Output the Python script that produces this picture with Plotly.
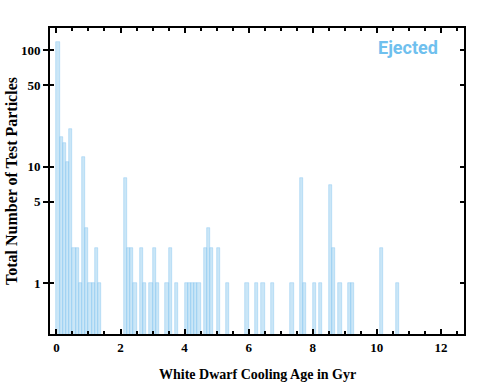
import plotly.graph_objects as go

# histogram of ejected particles, 0.1 Gyr bins (left edges) and counts
bin_left = [0.0, 0.1, 0.2, 0.3, 0.4, 0.5, 0.6, 0.7, 0.8, 0.9, 1.0, 1.1, 1.2, 1.3,
            2.1, 2.2, 2.3, 2.4, 2.6, 2.7, 2.9, 3.0, 3.1, 3.4, 3.5, 3.7,
            4.0, 4.1, 4.2, 4.3, 4.4, 4.6, 4.7, 4.8, 5.0, 5.3, 5.9, 6.2, 6.4, 6.7,
            7.3, 7.6, 7.7, 8.0, 8.2, 8.5, 8.6, 8.8, 9.1, 9.2, 10.1, 10.6]
counts = [118, 18, 16, 11, 21, 2, 2, 1, 12, 3, 1, 1, 2, 1,
          8, 2, 2, 1, 2, 1, 1, 2, 1, 1, 2, 1,
          1, 1, 1, 1, 1, 2, 3, 2, 2, 1, 1, 1, 1, 1,
          1, 8, 1, 1, 1, 7, 2, 1, 1, 1, 2, 1]
bin_width = 0.1

x_ticks = [0, 2, 4, 6, 8, 10, 12]
y_ticks = [1, 5, 10, 50, 100]

serif = "Liberation Serif, DejaVu Serif, serif"

fig = go.Figure()
fig.add_trace(go.Bar(
    x=bin_left, y=counts, width=bin_width, offset=0,
    marker=dict(color="rgba(150,205,240,0.5)",
                line=dict(color="rgba(130,195,240,0.7)", width=0.6)),
    showlegend=False,
))
# dummy trace so the inner-tick y axis is drawn
fig.add_trace(go.Scatter(x=[None], y=[None], yaxis="y2", showlegend=False))

fig.add_annotation(x=0.865, y=0.935, xref="paper", yref="paper",
                   xanchor="center", yanchor="middle",
                   text="<b>Ejected</b>", showarrow=False,
                   font=dict(family="Liberation Sans Narrow, Roboto, sans-serif",
                             size=18, color="#6fc0ee"))
# axis titles
fig.add_annotation(x=0.5, y=0, xref="paper", yref="paper", yshift=-40,
                   yanchor="middle", showarrow=False,
                   text="<b>White Dwarf Cooling Age in Gyr</b>",
                   font=dict(size=14, family=serif))
fig.add_annotation(x=0, y=0.5, xref="paper", yref="paper", xshift=-39,
                   xanchor="center", textangle=-90, showarrow=False,
                   text="<b>Total Number of Test Particles</b>",
                   font=dict(size=16, family=serif))

fig.update_layout(
    width=491, height=382,
    margin=dict(l=50, r=27, t=28, b=48),
    paper_bgcolor="white", plot_bgcolor="white",
    bargap=0,
    font=dict(family=serif, color="black"),
    xaxis=dict(
        range=[-0.2, 12.72], tickvals=x_ticks,
        ticktext=[f"<b>{v}</b>" for v in x_ticks],
        ticks="inside", ticklen=5, tickwidth=2, tickcolor="black",
        minor=dict(dtick=0.5, ticks="inside", ticklen=3, tickwidth=2, tickcolor="black"),
        showline=True, linecolor="black", linewidth=2, mirror="ticks",
        showgrid=False, zeroline=False, automargin=False,
        tickfont=dict(size=13, family=serif),
    ),
    yaxis=dict(
        type="log", range=[-0.434, 2.189], tickvals=y_ticks,
        ticktext=[f"<b>{v}</b>" for v in y_ticks],
        ticks="outside", ticklen=5, tickwidth=2, tickcolor="black",
        showline=True, linecolor="black", linewidth=2, mirror=True,
        showgrid=False, zeroline=False, automargin=False,
        tickfont=dict(size=13, family=serif),
    ),
    yaxis2=dict(
        type="log", range=[-0.434, 2.189], overlaying="y", side="left",
        tickvals=y_ticks, showticklabels=False,
        ticks="inside", ticklen=4, tickwidth=2, tickcolor="black",
        showline=False, showgrid=False, zeroline=False, mirror="ticks",
        automargin=False,
    ),
)

# drop the page's default body margin so the figure fills the window
fig.write_html("out.html", config={"displayModeBar": False},
               post_script="document.body.style.margin='0';document.body.style.overflow='hidden';")
